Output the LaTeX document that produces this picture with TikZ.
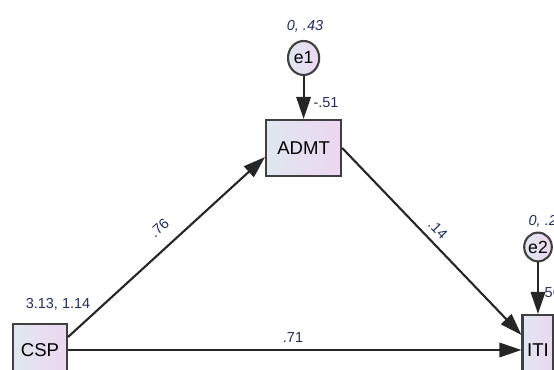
\documentclass[tikz,border=0pt]{standalone}
\usepackage{fontspec}
\setmainfont{Liberation Sans}
\usetikzlibrary{arrows.meta,shapes.geometric}
\definecolor{estblue}{RGB}{35,45,95}
\definecolor{boxleft}{RGB}{224,231,239}
\definecolor{boxright}{RGB}{236,215,241}

\begin{document}
\begin{tikzpicture}[
    >={Triangle[length=0.55cm,width=0.36cm]},
    obs/.style={
        draw=black!75,
        line width=1.5pt,
        left color=boxleft,
        right color=boxright,
        font=\fontsize{13.2}{14}\selectfont
    },
    err/.style={
        ellipse,
        draw=black!75,
        line width=1.5pt,
        left color=boxleft,
        right color=boxright,
        inner sep=0pt,
        font=\fontsize{12.5}{13}\selectfont
    },
    est/.style={text=estblue, inner sep=1pt, font=\fontsize{10.3}{11}\selectfont},
    var/.style={est, font=\fontsize{10.3}{11}\selectfont\itshape},
    reg/.style={->, line width=1.5pt, draw=black!85}
]
    \useasboundingbox (0,0) rectangle (13.85,9.25);

    \node[obs, minimum width=1.35cm, minimum height=1.3cm] (csp) at (1.0,0.5)
        {CSP};

    \node[obs, minimum width=1.875cm, minimum height=1.4cm] (admt) at (7.59,5.55)
        {ADMT};

    \node[obs, minimum width=0.75cm, minimum height=1.75cm] (iti) at (13.45,0.5)
        {ITI};

    \node[err, minimum width=0.78cm, minimum height=0.85cm] (e1) at (7.59,7.8) {e1};
    \node[err, minimum width=0.6cm, minimum height=0.72cm] (e2) at (13.45,3.075) {e2};

    \node[var] (vare1) at (7.625,8.6) {0, .43};
    \node[var, anchor=west] (vare2) at (13.175,3.725) {0, .2};
    \node[est] (varcsp) at (1.45,1.65) {3.13, 1.14};
    \node[est] (intadmt) at (8.15,6.675) {-.51};
    \node[est, anchor=west] (intiti) at (13.475,1.925) {.56};

    \draw[reg] (e1) -- (admt);
    \draw[reg] (e2) -- (iti);
    \draw[reg] ([yshift=0.325cm]csp.east) -- ([yshift=-0.225cm]admt.west);
    \draw[reg] (admt.east) -- ([yshift=0.375cm]iti.west);
    \draw[reg] (csp.east) -- (iti.west);

    \node[est, rotate=42] (wa) at (3.98,3.55) {.76};
    \node[est, rotate=-46] (wb) at (10.95,3.52) {.14};
    \node[est] (wc) at (7.325,0.82) {.71};
\end{tikzpicture}
\end{document}
